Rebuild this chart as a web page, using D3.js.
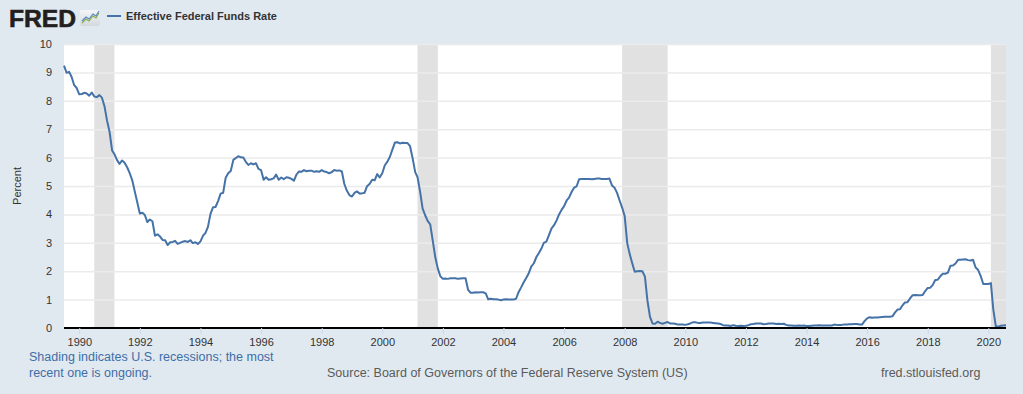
<!DOCTYPE html>
<html><head><meta charset="utf-8">
<script src="https://cdn.jsdelivr.net/npm/d3@7"></script>
<style>
html,body{margin:0;padding:0;background:#e1e9f0;}
svg{display:block;font-family:"Liberation Sans",Arial,sans-serif;}
</style></head>
<body><svg id="c" width="1023" height="394"></svg>
<script>
const startMonth = "1989-07";
const rates = [
9.24,8.99,9.02,8.84,8.55,8.45,
8.23,8.24,8.28,8.26,8.18,8.29,8.15,8.13,8.20,8.11,7.81,7.31,
6.91,6.25,6.12,5.91,5.78,5.90,5.82,5.66,5.45,5.21,4.81,4.43,
4.03,4.06,3.98,3.73,3.82,3.76,3.25,3.30,3.22,3.10,3.09,2.92,
3.02,3.03,3.07,2.96,3.00,3.04,3.06,3.03,3.09,2.99,3.02,2.96,
3.05,3.25,3.34,3.56,4.01,4.25,4.26,4.47,4.73,4.76,5.29,5.45,
5.53,5.92,5.98,6.05,6.01,6.00,5.85,5.74,5.80,5.76,5.80,5.60,
5.56,5.22,5.31,5.22,5.24,5.27,5.40,5.22,5.30,5.24,5.31,5.29,
5.25,5.19,5.39,5.51,5.50,5.56,5.52,5.54,5.54,5.50,5.52,5.50,
5.56,5.51,5.49,5.45,5.49,5.56,5.54,5.55,5.51,5.07,4.83,4.68,
4.63,4.76,4.81,4.74,4.74,4.76,4.99,5.07,5.22,5.20,5.42,5.30,
5.45,5.73,5.85,6.02,6.27,6.53,6.54,6.50,6.52,6.51,6.51,6.40,
5.98,5.49,5.31,4.80,4.21,3.97,3.77,3.65,3.07,2.49,2.09,1.82,
1.73,1.74,1.73,1.75,1.75,1.75,1.73,1.74,1.75,1.75,1.34,1.24,
1.24,1.26,1.25,1.26,1.26,1.22,1.01,1.03,1.01,1.01,1.00,0.98,
1.00,1.01,1.00,1.00,1.00,1.03,1.26,1.43,1.61,1.76,1.93,2.16,
2.28,2.50,2.63,2.79,3.00,3.04,3.26,3.50,3.62,3.78,4.00,4.16,
4.29,4.49,4.59,4.79,4.94,4.99,5.24,5.25,5.25,5.25,5.25,5.24,
5.25,5.26,5.26,5.25,5.25,5.25,5.26,5.02,4.94,4.76,4.49,4.24,
3.94,2.98,2.61,2.28,1.98,2.00,2.01,2.00,1.81,0.97,0.39,0.16,
0.15,0.22,0.18,0.15,0.18,0.21,0.16,0.16,0.15,0.12,0.12,0.12,
0.11,0.13,0.16,0.20,0.20,0.18,0.18,0.19,0.19,0.19,0.19,0.18,
0.17,0.16,0.14,0.10,0.09,0.09,0.07,0.10,0.08,0.07,0.08,0.07,
0.08,0.10,0.13,0.14,0.16,0.16,0.16,0.13,0.14,0.16,0.16,0.16,
0.14,0.15,0.14,0.15,0.11,0.09,0.09,0.08,0.08,0.09,0.08,0.09,
0.07,0.07,0.08,0.09,0.09,0.10,0.09,0.09,0.09,0.09,0.09,0.12,
0.11,0.11,0.11,0.12,0.12,0.13,0.13,0.14,0.14,0.12,0.12,0.24,
0.34,0.38,0.36,0.37,0.37,0.38,0.39,0.40,0.40,0.40,0.41,0.54,
0.65,0.66,0.79,0.90,0.91,1.04,1.15,1.16,1.15,1.15,1.16,1.30,
1.41,1.42,1.51,1.69,1.70,1.82,1.91,1.91,1.95,2.19,2.20,2.27,
2.40,2.40,2.41,2.42,2.39,2.38,2.40,2.13,2.04,1.83,1.55,1.55,
1.55,1.58,0.65,0.05,0.05,0.08,0.09,0.10
];
const recessions = [["1990-07-01","1991-03-01"],["2001-03-01","2001-11-01"],["2007-12-01","2009-06-01"],["2020-02-01","2020-08-01"]];
const yTicks = [0,1,2,3,4,5,6,7,8,9,10];
const xTickYears = [1990,1992,1994,1996,1998,2000,2002,2004,2006,2008,2010,2012,2014,2016,2018,2020];
const seriesName = "Effective Federal Funds Rate";
const yLabel = "Percent";
const noteLines = ["Shading indicates U.S. recessions; the most","recent one is ongoing."];
const sourceText = "Source: Board of Governors of the Federal Reserve System (US)";
const siteText = "fred.stlouisfed.org";

const parse = d3.timeParse("%Y-%m");
const t0 = parse(startMonth);
const data = rates.map((v,i)=>({date:d3.timeMonth.offset(t0,i), v}));

const svg = d3.select("#c");
const L=64, R=1006, T=44, B=328;
const x = d3.scaleTime().domain([data[0].date, data[data.length-1].date]).range([L,R]);
const y = d3.scaleLinear().domain([0,10]).range([B,T]);

svg.append("rect").attr("x",L).attr("y",T).attr("width",R-L).attr("height",B-T).attr("fill","#fff");

const pd = d3.isoParse;
svg.append("g").selectAll("rect").data(recessions).join("rect")
  .attr("x",d=>x(pd(d[0]))).attr("y",T)
  .attr("width",d=>Math.min(R,x(pd(d[1])))-x(pd(d[0]))).attr("height",B-T)
  .attr("fill","#e1e1e1");

// gridlines
const gy = svg.append("g").attr("transform",`translate(${L},0)`)
  .call(d3.axisLeft(y).tickValues(yTicks).tickSize(-(R-L)).tickFormat(""));
gy.select(".domain").remove();
gy.selectAll("line").attr("stroke","#ebebeb").attr("stroke-width",1.5);
gy.selectAll(".tick").filter(d=>d===0).remove();

// y labels
const gyl = svg.append("g").attr("transform",`translate(${L},0)`)
  .call(d3.axisLeft(y).tickValues(yTicks).tickSize(0).tickPadding(12));
gyl.select(".domain").remove();
gyl.selectAll("text").attr("font-size",11).attr("fill","#333").attr("font-family","Liberation Sans,Arial,sans-serif");

// line
svg.append("path").datum(data)
  .attr("d",d3.line().x(d=>x(d.date)).y(d=>y(d.v)))
  .attr("fill","none").attr("stroke","#4572a7").attr("stroke-width",2).attr("stroke-linejoin","round");

// x axis
const gx = svg.append("g").attr("transform",`translate(0,${B})`)
  .call(d3.axisBottom(x).tickValues(xTickYears.map(yy=>new Date(yy,0,1))).tickSize(6).tickPadding(4).tickFormat(d3.timeFormat("%Y")));
gx.select(".domain").attr("stroke","#000").attr("stroke-width",2).attr("d",`M${L},0H${R}`);
gx.selectAll("line").attr("stroke","#ccd6eb");
gx.selectAll("text").attr("font-size",11).attr("fill","#333").attr("font-family","Liberation Sans,Arial,sans-serif");

// y axis title
svg.append("text").attr("transform","translate(21,186) rotate(-90)").attr("text-anchor","middle")
  .attr("font-size",11).attr("fill","#333").text(yLabel);

// header
svg.append("text").attr("x",9).attr("y",27).attr("font-size",24).attr("font-weight",900)
  .attr("fill","#231f20").attr("textLength",67).attr("lengthAdjust","spacingAndGlyphs")
  .attr("stroke","#231f20").attr("stroke-width",0.6)
  .attr("font-family","Liberation Sans,Arial,sans-serif").text("FRED");
const defs = svg.append("defs");
const lg = defs.append("linearGradient").attr("id","icg").attr("x1",0).attr("y1",0).attr("x2",0).attr("y2",1);
lg.append("stop").attr("offset",0).attr("stop-color","#f4f6f8");
lg.append("stop").attr("offset",1).attr("stop-color","#d3d9de");
const ic = svg.append("g").attr("transform","translate(80,10)");
ic.append("rect").attr("width",20).attr("height",16).attr("rx",2).attr("fill","url(#icg)");
ic.append("path").attr("d","M2,13 L6,9 L9,11 L13,6 L16,8 L19,3").attr("fill","none").attr("stroke","#8ab04a").attr("stroke-width",1.2);
ic.append("path").attr("d","M2,11 L6,7 L9,9 L13,4 L16,6 L19,1").attr("fill","none").attr("stroke","#5a87c0").attr("stroke-width",1.2);
svg.append("line").attr("x1",107).attr("x2",121).attr("y1",16).attr("y2",16).attr("stroke","#4572a7").attr("stroke-width",2);
svg.append("text").attr("x",126).attr("y",20).attr("font-size",11).attr("font-weight","bold").attr("fill","#333").text(seriesName);

// footer
svg.append("g").selectAll("text").data(noteLines).join("text")
  .attr("x",29).attr("y",(d,i)=>361+i*15.5).attr("font-size",12.5).attr("fill","#3d6ea8").text(d=>d);
svg.append("text").attr("x",327).attr("y",377).attr("font-size",12.5).attr("fill","#5a5a5a").text(sourceText);
svg.append("text").attr("x",881).attr("y",377).attr("font-size",12.5).attr("fill","#5a5a5a").text(siteText);
</script></body></html>
